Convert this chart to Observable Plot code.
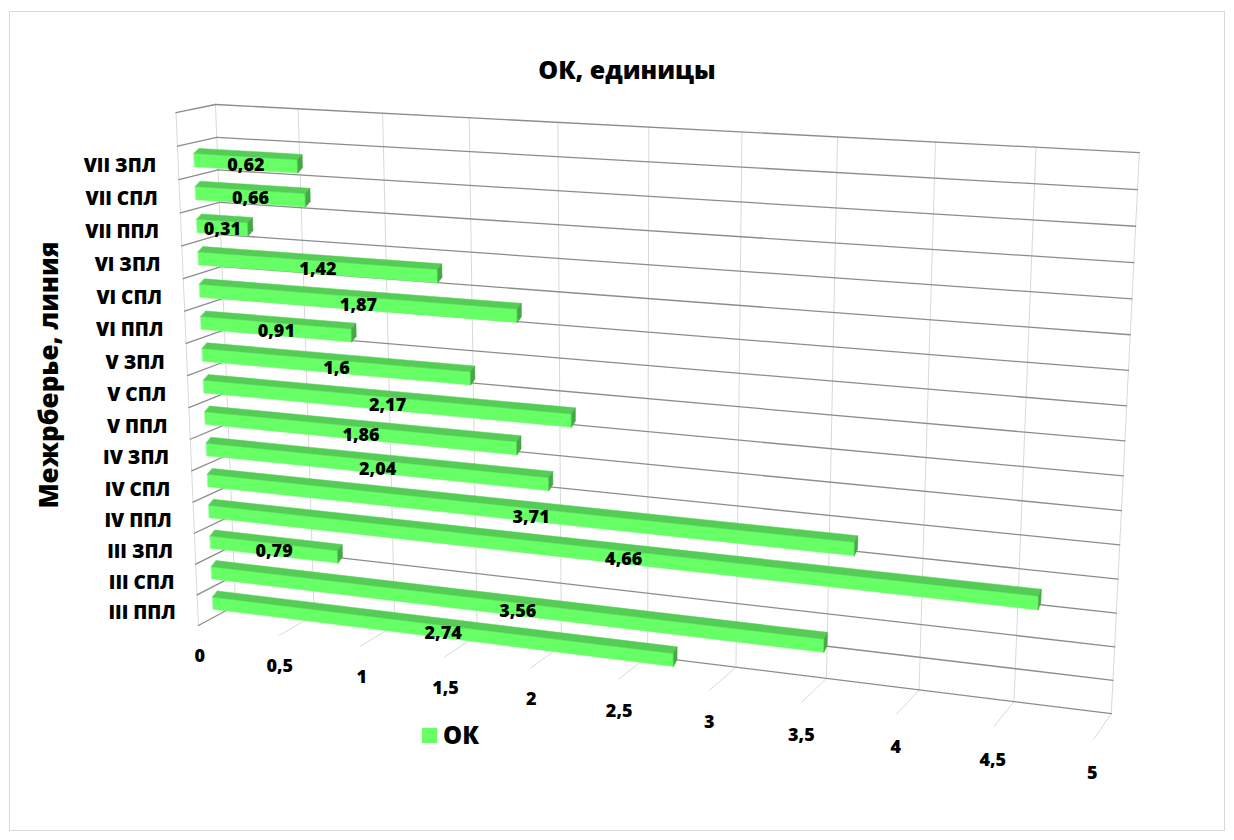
<!DOCTYPE html>
<html lang="ru">
<head>
<meta charset="utf-8">
<script src="https://cdn.jsdelivr.net/npm/d3@7"></script>
<script src="https://cdn.jsdelivr.net/npm/@observablehq/plot@0.6"></script>
<style>
  html, body { margin: 0; background: #fff; }
  #chart { position: relative; width: 1234px; height: 840px; font-family: "Open Sans", sans-serif; color: #000; }
  #frame { position: absolute; left: 9px; top: 11px; width: 1216px; height: 820px; border: 1px solid #d9d9d9; box-sizing: border-box; pointer-events: none; }
  #title { height: 98px; box-sizing: border-box; padding-top: 53px; padding-left: 20px; text-align: center; font-weight: 800; font-size: 25px; line-height: 32px; }
  #plot svg { display: block; }
  #ytitle { position: absolute; left: 48px; top: 375px; transform: translate(-50%, -50%) rotate(-90deg); white-space: nowrap; font-weight: 800; font-size: 26px; }
  #legend { position: absolute; left: 422px; top: 719px; display: flex; align-items: center; font-weight: 800; font-size: 24px; line-height: 32px; }
  #legend .swatch { width: 15px; height: 15px; background: #66ff66; margin-right: 6px; }
</style>
</head>
<body>
<div id="chart">
  <div id="frame"></div>
  <div id="title">ОК, единицы</div>
  <div id="plot"></div>
  <div id="ytitle">Межрберье, линия</div>
  <div id="legend"><span class="swatch"></span><span>ОК</span></div>
</div>
<script>
// Intercostal space and line, listed bottom to top as they stack on the chart
const categories = [
  "III ППЛ", "III СПЛ", "III ЗПЛ",
  "IV ППЛ", "IV СПЛ", "IV ЗПЛ",
  "V ППЛ", "V СПЛ", "V ЗПЛ",
  "VI ППЛ", "VI СПЛ", "VI ЗПЛ",
  "VII ППЛ", "VII СПЛ", "VII ЗПЛ"
];
// ОК, units
const okValues = [2.74, 3.56, 0.79, 4.66, 3.71, 2.04, 1.86, 2.17, 1.6, 0.91, 1.87, 1.42, 0.31, 0.66, 0.62];
const valueLabels = ["2,74", "3,56", "0,79", "4,66", "3,71", "2,04", "1,86", "2,17", "1,6", "0,91", "1,87", "1,42", "0,31", "0,66", "0,62"];
const xTicks = [0, 0.5, 1, 1.5, 2, 2.5, 3, 3.5, 4, 4.5, 5];
const xTickLabels = ["0", "0,5", "1", "1,5", "2", "2,5", "3", "3,5", "4", "4,5", "5"];

const WIDTH = 1234, HEIGHT = 742, TOP = 98; // svg size and its offset below the title

// Category slots on the walls: one empty slot is left above the last category.
const slots = [...categories, ""];
const valueScale = Plot.scale({x: {domain: [0, 5], range: [0, 1]}});
const rowScale = Plot.scale({y: {type: "band", domain: slots, range: [0, 1], padding: 0}});
const bw = rowScale.bandwidth;

// Perspective view of the plot box. World coordinates: u along the value axis,
// v up the back wall, w from the back wall towards the viewer, each 0..1.
const view = {
  origin: [235, 605],
  u: [752.5, 28.9],
  v: [-30.45, -506.05],
  w: [-41.8, 5.0],
  perspective: [-0.111, -0.0486, -0.024]
};

function toScreen(x, v, w) {
  const u = valueScale.apply(x);
  const [pu, pv, pw] = view.perspective;
  const d = 1 + pu * u + pv * v + pw * w;
  return [
    (view.origin[0] + view.u[0] * u + view.v[0] * v + view.w[0] * w) / d,
    (view.origin[1] + view.u[1] * u + view.v[1] * v + view.w[1] * w) / d - TOP
  ];
}

// Points without a depth (text anchors) sit on the front plane, w = 1.
const FRONT = 1;
const projection = d3.geoTransform({
  point(x, v, w) {
    const [sx, sy] = toScreen(x, v, w ?? FRONT);
    this.stream.point(sx, sy);
  }
});

// Inverse of the view on the front plane: screen point → (value, v).
function onFrontPlane([sx, sy]) {
  const [pu, pv, pw] = view.perspective;
  const py = sy + TOP;
  const d0 = 1 + pw * FRONT;
  const n0x = view.origin[0] + view.w[0] * FRONT, n0y = view.origin[1] + view.w[1] * FRONT;
  const a11 = view.u[0] - sx * pu, a12 = view.v[0] - sx * pv, b1 = sx * d0 - n0x;
  const a21 = view.u[1] - py * pu, a22 = view.v[1] - py * pv, b2 = py * d0 - n0y;
  const det = a11 * a22 - a12 * a21;
  const u = (b1 * a22 - a12 * b2) / det;
  const v = (a11 * b2 - a21 * b1) / det;
  return [valueScale.invert(u), v];
}

const line = (coords) => ({type: "LineString", coordinates: coords});
const poly = (coords) => ({type: "Polygon", coordinates: [[...coords, coords[0]]]});

const [xMin, xMax] = [xTicks[0], xTicks[xTicks.length - 1]];
const rowEdges = [...slots.map((s) => rowScale.apply(s)), 1];

// Walls and floor grid
const backVertical = xTicks.map((x) => line([[x, 0, 0], [x, 1, 0]]));
const sideOuter = [line([[xMin, 0, 1], [xMin, 1, 1]])];
const floorLines = xTicks.filter((x) => x > xMin).map((x) => line([[x, 0, 0], [x, 0, 1]]));
const backHorizontal = rowEdges.map((v) => line([[xMin, v, 0], [xMax, v, 0]]));
const sideHorizontal = rowEdges.map((v) => line([[xMin, v, 0], [xMin, v, 1]]));

// Bars: a front face, a top face and an end face
const BAR_FRONT = 0.6, BAR_DEPTH = -0.13, BAR_RISE = 0.12 * bw;
const bars = categories.map((c, i) => {
  const y0 = rowScale.apply(c) + 0.27 * bw, y1 = rowScale.apply(c) + 0.67 * bw;
  const val = okValues[i], zf = BAR_FRONT, zb = BAR_FRONT + BAR_DEPTH;
  return {
    front: poly([[0, y0, zf], [val, y0, zf], [val, y1, zf], [0, y1, zf]]),
    top: poly([[0, y1, zf], [val, y1, zf], [val, y1 + BAR_RISE, zb], [0, y1 + BAR_RISE, zb]]),
    end: poly([[val, y0, zf], [val, y0 + BAR_RISE, zb], [val, y1 + BAR_RISE, zb], [val, y1, zf]])
  };
});

// Labels
const categoryText = categories.map((c) => ({x: xMin, y: rowScale.apply(c) + bw / 2, text: c}));
const tickText = xTicks.map((x, i) => ({x, y: -bw, text: xTickLabels[i]}));
const valueText = categories.map((c, i) => {
  const yc = rowScale.apply(c) + 0.47 * bw;
  const a = toScreen(0, yc, BAR_FRONT), b = toScreen(okValues[i], yc, BAR_FRONT);
  const [x, y] = onFrontPlane([(a[0] + b[0]) / 2, (a[1] + b[1]) / 2]);
  return {x, y, text: valueLabels[i]};
});

const DARK = "#8c8c8c", LIGHT = "#d9d9d9";
const chart = Plot.plot({
  width: WIDTH,
  height: HEIGHT,
  margin: 0,
  projection,
  x: {axis: null},
  y: {axis: null},
  style: {background: "transparent", fontFamily: "'Open Sans', sans-serif", overflow: "visible"},
  marks: [
    Plot.geo(backVertical, {stroke: LIGHT, strokeWidth: 1}),
    Plot.geo(sideOuter, {stroke: LIGHT, strokeWidth: 1}),
    Plot.geo(floorLines, {stroke: LIGHT, strokeWidth: 1}),
    Plot.geo(backHorizontal, {stroke: DARK, strokeWidth: 1.3}),
    Plot.geo(sideHorizontal, {stroke: DARK, strokeWidth: 1.3}),
    Plot.geo(bars, {geometry: (d) => d.front, fill: "#66ff66", stroke: "#66ff66", strokeWidth: 0.5}),
    Plot.geo(bars, {geometry: (d) => d.top, fill: "#55cc55", stroke: "#55cc55", strokeWidth: 0.5}),
    Plot.geo(bars, {geometry: (d) => d.end, fill: "#45a845", stroke: "#45a845", strokeWidth: 0.5}),
    Plot.text(categoryText, {x: "x", y: "y", text: "text", textAnchor: "end", dx: -22, dy: 3, fontSize: 19, fontWeight: 800, fill: "#000"}),
    Plot.text(tickText, {x: "x", y: "y", text: "text", fontSize: 18, fontWeight: 800, fill: "#000"}),
    Plot.text(valueText, {x: "x", y: "y", text: "text", dy: 2, fontSize: 18, fontWeight: 800, fill: "#000"})
  ]
});
document.getElementById("plot").append(chart);
</script>
</body>
</html>
